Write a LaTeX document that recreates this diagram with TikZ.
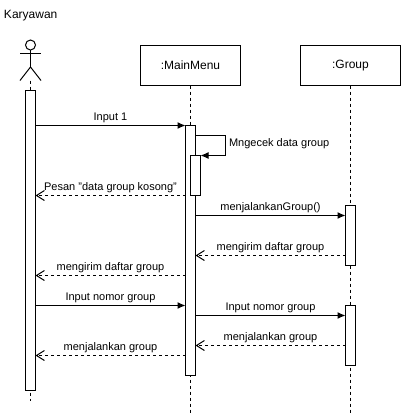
\documentclass[tikz,border=0pt]{standalone}
\usepackage{fontspec}
\setmainfont{Liberation Sans}
\usetikzlibrary{positioning,arrows.meta}

\begin{document}
\begin{tikzpicture}[
    x=1pt, y=-1pt,
    line width=1pt,
    every node/.style={font=\fontsize{11}{13}\selectfont, inner sep=0pt, outer sep=0pt},
    lifebox/.style={draw, fill=white, minimum width=100pt, minimum height=40pt, font=\fontsize{12}{14}\selectfont},
    actbox/.style={draw, fill=white, minimum width=10pt},
    lifeline/.style={dash pattern=on 3pt off 3pt},
    msg/.style={-{Latex[length=8pt,width=7pt]}},
    reply/.style={dash pattern=on 3pt off 3pt, -{Straight Barb[length=8pt,width=10pt]}},
    msglabel/.style={midway, above=2.5pt}
]
\useasboundingbox (0,0) rectangle (401,416);

% kepala kolom
\node[anchor=west, font=\fontsize{12}{14}\selectfont] (karyawan) at (4,15.5) {Karyawan};
\node[lifebox] (mainmenu) at (190.5,65.5) {:MainMenu};
\node[lifebox, right=60pt of mainmenu] (group) {:Group};

% aktor
\node[draw, circle, minimum size=10pt] (head) at (30.5,45) {};
\coordinate (hip) at (30.5,67);
\coordinate (feet) at (30.5,80.5);
\draw (head.south) -- (hip);
\draw (20,53.5) -- (41,53.5);
\draw (20,80.5) -- (hip) -- (41,80.5);

% garis hidup
\coordinate (endK) at (30.5,401);
\coordinate (endM) at (190.5,413);
\coordinate (endG) at (350.5,413);
\draw[lifeline] (feet) -- (endK);
\draw[lifeline] (mainmenu.south) -- (endM);
\draw[lifeline] (group.south) -- (endG);

% kotak aktivasi
\node[actbox, minimum height=300pt] (actK) at (30.5,240.5) {};
\node[actbox, minimum height=250pt] (actM) at (190.5,250.5) {};
\node[actbox, minimum height=40pt] (actN) at (195.5,175.5) {};
\node[actbox, minimum height=60pt] (actG1) at (350.5,235.5) {};
\node[actbox, minimum height=60pt] (actG2) at (350.5,335.5) {};

% pesan dari karyawan
\draw[msg] (actK.east |- 0,125.5) -- (actM.west |- 0,125.5) node[msglabel] {Input 1};
\draw[reply] (actM.west |- 0,195.5) -- (actK.east |- 0,195.5) node[msglabel] {Pesan "data group kosong"};
\draw[reply] (actM.west |- 0,275.5) -- (actK.east |- 0,275.5) node[msglabel] {mengirim daftar group};
\draw[msg] (actK.east |- 0,305.5) -- (actM.west |- 0,305.5) node[msglabel] {Input nomor group};
\draw[reply] (actM.west |- 0,355.5) -- (actK.east |- 0,355.5) node[msglabel] {menjalankan group};

% panggilan ke diri sendiri
\draw[msg] (actM.east |- 0,135.5) -- (225.5,135.5) -- (225.5,155.5) -- (actN.north east);
\node[anchor=west] (mngecek) at (229,143.5) {Mngecek data group};

% pesan ke group
\draw[msg] (actM.east |- 0,215.5) -- (actG1.west |- 0,215.5) node[msglabel] {menjalankanGroup()};
\draw[reply] (actG1.west |- 0,255.5) -- (actM.east |- 0,255.5) node[msglabel] {mengirim daftar group};
\draw[msg] (actM.east |- 0,315.5) -- (actG2.west |- 0,315.5) node[msglabel] {Input nomor group};
\draw[reply] (actG2.west |- 0,345.5) -- (actM.east |- 0,345.5) node[msglabel] {menjalankan group};

\end{tikzpicture}
\end{document}
